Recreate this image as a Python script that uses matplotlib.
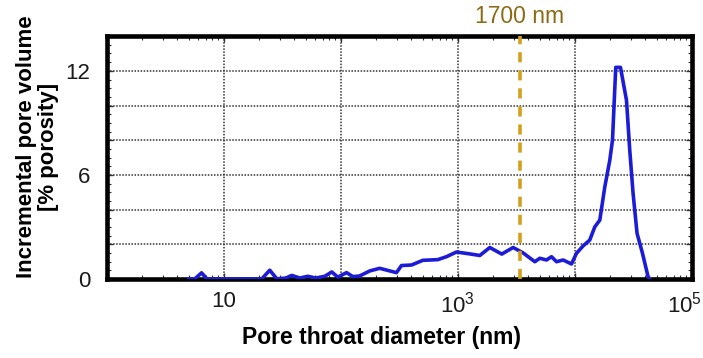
import numpy as np
import matplotlib
matplotlib.use('Agg')
import matplotlib.pyplot as plt
from matplotlib.ticker import LogLocator, MultipleLocator, FuncFormatter, NullFormatter

plt.rcParams['font.family'] = ['Liberation Sans', 'DejaVu Sans']
plt.rcParams['mathtext.default'] = 'regular'

# pore throat diameter (nm) and incremental pore volume (% porosity)
diameter_nm = [5.0, 5.65, 6.45, 7.16, 21.1, 24.7, 28.4, 33.9, 38.1, 44.6, 52.2, 61.1,
               73.0, 83.7, 94.2, 112, 127, 145, 177, 215, 299, 330, 402, 502, 675,
               800, 975, 1267, 1543, 1878, 2378, 2970, 3615, 4552, 5023, 5731, 6324,
               6982, 7950, 9376, 10350, 11780, 13430, 14830, 16370, 18050, 19920,
               21010, 22400, 24590, 27680, 29530, 31510, 34070, 37900, 42310, 43750]
pore_volume = [0.0, 0.0, 0.35, 0.0, 0.0, 0.5, 0.0, 0.05, 0.2, 0.05, 0.15, 0.05,
               0.15, 0.4, 0.1, 0.36, 0.13, 0.17, 0.46, 0.61, 0.36, 0.77, 0.8, 1.07, 1.11,
               1.28, 1.55, 1.44, 1.35, 1.81, 1.43, 1.81, 1.5, 0.99, 1.19, 1.09, 1.28,
               0.99, 1.09, 0.86, 1.48, 1.9, 2.24, 3.0, 3.39, 5.3, 6.84,
               8.0, 12.2, 12.2, 10.3, 7.4, 4.93, 2.63, 1.48, 0.13, 0.0]

# cutoff quoted as pore throat radius; plotted on the diameter axis
cutoff_radius_nm = 1700
cutoff_diameter_nm = 2 * cutoff_radius_nm

x_labels = {10: '10', 1000: '$10^{3}$'}
last_label = '$10^{5}$'

fig = plt.figure(figsize=(7.03, 3.58), dpi=100)
ax = fig.add_axes([0.152, 0.221, 0.832, 0.678])

ax.plot(diameter_nm, pore_volume, color='#1c1cd6', lw=2.6, solid_joinstyle='round', zorder=3)
ax.axvline(cutoff_diameter_nm, color='#d4a01c', lw=2.6, linestyle=(0, (2.8, 2.2)), zorder=4)
ax.text(cutoff_diameter_nm, 14.45, f'{cutoff_radius_nm} nm', color='#8c6a14', fontsize=16.5,
        ha='center', va='bottom')

ax.set_xscale('log')
ax.set_xlim(1, 1e5)
ax.set_ylim(0, 14)

ax.xaxis.set_major_locator(LogLocator(base=10, numticks=10))
ax.xaxis.set_minor_locator(LogLocator(base=10, subs=np.arange(2, 10), numticks=10))
ax.xaxis.set_major_formatter(FuncFormatter(lambda v, p: x_labels.get(int(round(v)), '')))
ax.xaxis.set_minor_formatter(NullFormatter())

ax.yaxis.set_major_locator(MultipleLocator(2))
ax.yaxis.set_minor_locator(MultipleLocator(0.5))
ax.yaxis.set_major_formatter(FuncFormatter(lambda v, p: f'{int(v)}' if int(round(v)) % 6 == 0 else ''))

ax.grid(True, which='major', color='#333333', lw=1.1, linestyle=(0, (1, 1)))
ax.tick_params(which='both', direction='in', top=True, right=True, color='#333333')
ax.tick_params(which='major', length=4, width=1, labelsize=16, labelcolor='#1a1a1a')
ax.tick_params(axis='x', which='major', pad=9)
ax.tick_params(axis='y', which='major', pad=12)
ax.tick_params(which='minor', length=3, width=0.8)

# rightmost decade label sits against the figure edge
ax.annotate(last_label, xy=(1e5, 0), xycoords=('data', 'axes fraction'),
            xytext=(7, -9), textcoords='offset points', ha='right', va='top',
            fontsize=16, color='#1a1a1a')

for s in ax.spines.values():
    s.set_linewidth(3.3)
    s.set_color('black')

ax.set_xlabel('Pore throat diameter (nm)', fontsize=16.5, fontweight='bold')
ax.xaxis.set_label_coords(0.47, -0.195)
ax.set_ylabel('Incremental pore volume\n[% porosity]', fontsize=16, fontweight='bold',
              linespacing=1.05)
ax.yaxis.set_label_coords(-0.082, 0.545)

fig.savefig('out.png', dpi=100)
